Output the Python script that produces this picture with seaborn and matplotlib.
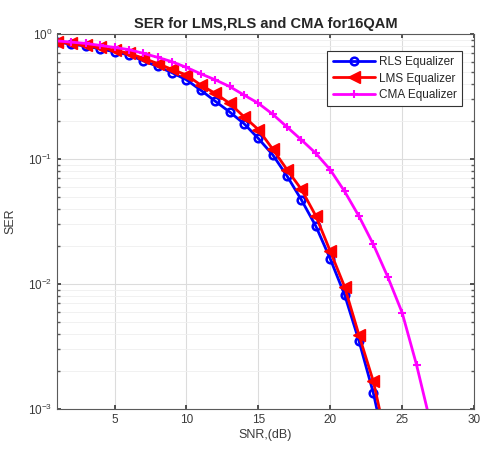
import numpy as np
import pandas as pd
import matplotlib
matplotlib.use("Agg")
import matplotlib.pyplot as plt
import seaborn as sns

# SER values (log scale)
snr_rls = list(range(1, 25))
ser_rls = [0.86, 0.83, 0.80, 0.76, 0.72, 0.68, 0.61, 0.55, 0.49, 0.43, 0.355, 0.29,
           0.238, 0.192, 0.146, 0.108, 0.073, 0.047, 0.029, 0.0159, 0.0082, 0.0035,
           0.00134, 0.0004]

snr_lms = list(range(1, 25))
ser_lms = [0.87, 0.84, 0.81, 0.78, 0.74, 0.70, 0.64, 0.58, 0.52, 0.47, 0.39, 0.335,
           0.279, 0.218, 0.172, 0.12, 0.082, 0.057, 0.035, 0.0183, 0.0095, 0.0039,
           0.00166, 0.0005]

snr_cma = list(range(1, 28))
ser_cma = [0.88, 0.86, 0.84, 0.81, 0.78, 0.75, 0.70, 0.65, 0.60, 0.54, 0.48, 0.43,
           0.38, 0.325, 0.279, 0.228, 0.18, 0.142, 0.111, 0.082, 0.055, 0.0348,
           0.0207, 0.0114, 0.0059, 0.00226, 0.00075]

labels = ["RLS Equalizer", "LMS Equalizer", "CMA Equalizer"]

df = pd.concat([
    pd.DataFrame({"SNR": snr_rls, "SER": ser_rls, "eq": labels[0]}),
    pd.DataFrame({"SNR": snr_lms, "SER": ser_lms, "eq": labels[1]}),
    pd.DataFrame({"SNR": snr_cma, "SER": ser_cma, "eq": labels[2]}),
])

sns.set_theme(style="white")
plt.rcParams["font.family"] = ["Liberation Sans", "DejaVu Sans"]

fig = plt.figure(figsize=(4.81, 4.59), dpi=100)
ax = fig.add_axes([0.1185, 0.109, 0.867, 0.817])

styles = {
    labels[0]: dict(color="#0000ff", marker="o", markersize=5.5, markerfacecolor="none",
                    markeredgecolor="#0000ff", markeredgewidth=1.8),
    labels[1]: dict(color="#ff0000", marker="<", markersize=8, markerfacecolor="#ff0000",
                    markeredgecolor="#ff0000", markeredgewidth=1),
    labels[2]: dict(color="#ff00ff", marker="+", markersize=5.5,
                    markeredgecolor="#ff00ff", markeredgewidth=1.5),
}

for lab in labels:
    sub = df[df["eq"] == lab]
    sns.lineplot(data=sub, x="SNR", y="SER", ax=ax, label=lab, linewidth=2,
                 **styles[lab])

ax.set_yscale("log")
ax.set_xlim(1, 30)
ax.set_ylim(1e-3, 1)
ax.set_xticks([5, 10, 15, 20, 25, 30])

ax.grid(True, which="major", color="#dcdcdc", linewidth=0.8)
ax.grid(True, which="minor", axis="y", color="#efefef", linewidth=0.6)
ax.set_axisbelow(True)

for s in ax.spines.values():
    s.set_color("#5a5a5a")
    s.set_linewidth(0.8)

ax.tick_params(axis="both", which="major", labelsize=8.5, colors="#3a3a3a",
               direction="in", length=3, left=True, bottom=True, top=True, right=True)
ax.tick_params(axis="y", which="minor", direction="in", length=2, left=True,
               right=True, colors="#5a5a5a")

ax.set_xlabel("SNR,(dB)", fontsize=9, color="#3a3a3a", labelpad=2)
ax.set_ylabel("SER", fontsize=9, color="#3a3a3a", labelpad=8)
ax.set_title("SER for LMS,RLS and CMA for16QAM", fontsize=10.5, fontweight="bold",
             pad=4)

leg = ax.legend(loc="upper right", bbox_to_anchor=(0.985, 0.97), fontsize=8.5,
                fancybox=False, edgecolor="#333333", framealpha=1,
                handlelength=3.6, handletextpad=0.3, borderpad=0.45,
                labelspacing=0.35)
leg.get_frame().set_linewidth(0.8)

fig.savefig("out.png", dpi=100)
